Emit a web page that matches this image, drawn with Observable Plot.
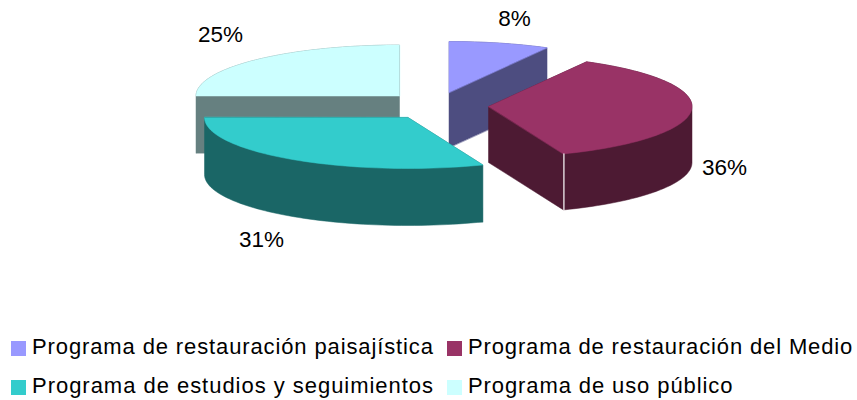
<!DOCTYPE html>
<html>
<head>
<meta charset="utf-8">
<script src="https://cdn.jsdelivr.net/npm/d3@7"></script>
<script src="https://cdn.jsdelivr.net/npm/@observablehq/plot@0.6"></script>
<style>
  html, body { margin: 0; padding: 0; background: #fff; }
  #chart svg { display: block; }
  #legend { position: relative; height: 75px; width: 857px; font-family: "Liberation Sans", Arial, sans-serif; font-size: 22px; color: #000; }
  .item { position: absolute; white-space: nowrap; line-height: 24px; }
  .sw { position: absolute; width: 15px; height: 15px; }
</style>
</head>
<body>
<div id="chart"></div>
<div id="legend"></div>
<script>
// Data
const categories = ["Programa de restauración paisajística", "Programa de restauración del Medio", "Programa de estudios y seguimientos", "Programa de uso público"];
const values = [8, 36, 31, 25];
const topColors = ["#9999ff", "#993366", "#33cccc", "#ccffff"];
const sideColors = ["#4d4d80", "#4d1a33", "#1a6666", "#668080"];

// Layout of the exploded 3-D pie
const W = 857, H = 325;
const rx = 203.5, ry = 51;
const depths = [55, 56, 57, 57];
const apexX = [448.5, 488, 407.5, 399];
const apexY = [92, 106, 117, 95.5];
const labelX = [514, 724, 261, 220];
const labelY = [18, 167, 239, 34];
const drawOrder = [3, 0, 1, 2];

const total = d3.sum(values);
const ends = d3.cumsum(values).map(v => v / total * 2 * Math.PI);
const starts = ends.map((e, i) => (i ? ends[i - 1] : 0));

function topPoints(i) {
  const n = Math.max(8, Math.round(values[i] * 2));
  const pts = [[apexX[i], apexY[i]]];
  for (let k = 0; k <= n; k++) {
    const a = starts[i] + (ends[i] - starts[i]) * k / n;
    pts.push([apexX[i] + rx * Math.sin(a), apexY[i] - ry * Math.cos(a)]);
  }
  return pts;
}
function sidePoints(i) {
  const t = topPoints(i);
  return d3.polygonHull(t.concat(t.map(([x, y]) => [x, y + depths[i]])));
}
const poly = (pts, fill) => Plot.line(pts, {x: d => d[0], y: d => d[1], fill, stroke: fill, strokeWidth: 0.5, curve: "linear-closed"});

const marks = [];
for (const i of drawOrder) {
  marks.push(poly(sidePoints(i), sideColors[i]));
  marks.push(poly(topPoints(i), topColors[i]));
  if (i === 1) {
    const a = ends[1];
    const bx = apexX[1] + rx * Math.sin(a) + 0.5, by = apexY[1] - ry * Math.cos(a);
    marks.push(Plot.line([[bx, by], [bx, by + depths[1]]], {x: d => d[0], y: d => d[1], stroke: "#fff", strokeWidth: 1.2}));
  }
}
marks.push(Plot.text(values.map((v, i) => ({v, x: labelX[i], y: labelY[i]})), {
  x: "x", y: "y", text: d => d.v + "%", fontSize: 22.5, fill: "#000", textAnchor: "middle", lineAnchor: "middle"
}));

const plot = Plot.plot({
  width: W, height: H,
  margin: 0,
  x: {domain: [0, W], range: [0, W], axis: null},
  y: {domain: [0, H], range: [0, H], axis: null},
  style: {fontFamily: '"Liberation Sans", Arial, sans-serif', background: "#fff"},
  marks
});
document.getElementById("chart").append(plot);

// Legend below the SVG
const legend = document.getElementById("legend");
const swatchX = [11, 447, 11, 447], swatchY = [16, 16, 55, 55];
const spacing = [0.88, 0.86, 0.97, 0.9];
categories.forEach((c, i) => {
  const s = document.createElement("div");
  s.className = "sw";
  s.style.left = swatchX[i] + "px"; s.style.top = swatchY[i] + "px";
  s.style.background = topColors[i];
  legend.append(s);
  const t = document.createElement("div");
  t.className = "item";
  t.textContent = c;
  t.style.letterSpacing = spacing[i] + "px";
  t.style.left = (swatchX[i] + 21) + "px"; t.style.top = (swatchY[i] - 6) + "px";
  legend.append(t);
});
</script>
</body>
</html>
